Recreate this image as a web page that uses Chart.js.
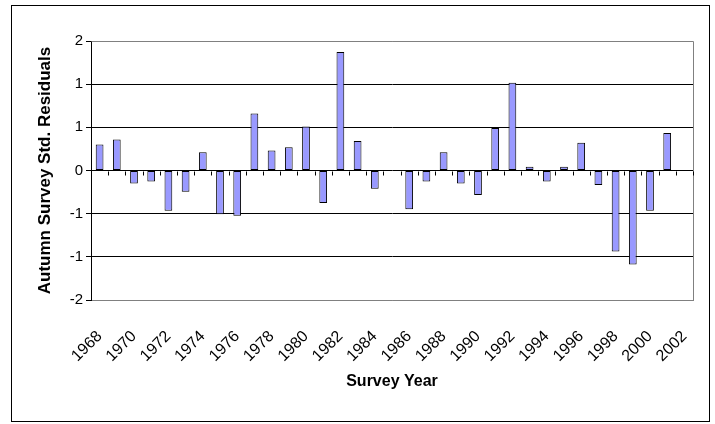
<!DOCTYPE html>
<html>
<head>
<meta charset="utf-8">
<script src="https://cdn.jsdelivr.net/npm/chart.js@4/dist/chart.umd.min.js"></script>
<style>
  html, body { margin: 0; padding: 0; background: #fff; }
  #wrap { width: 715px; height: 424px; }
</style>
</head>
<body>
<div id="wrap"><canvas id="c" width="715" height="424"></canvas></div>
<script>
const years = ['1968','1969','1970','1971','1972','1973','1974','1975','1976','1977',
  '1978','1979','1980','1981','1982','1983','1984','1985','1986','1987',
  '1988','1989','1990','1991','1992','1993','1994','1995','1996','1997',
  '1998','1999','2000','2001','2002'];
const residuals = [0.40, 0.48, -0.20, -0.17, -0.62, -0.33, 0.28, -0.675, -0.70, 0.88,
  0.31, 0.36, 0.68, -0.50, 1.83, 0.455, -0.28, null, -0.60, -0.17,
  0.28, -0.20, -0.38, 0.655, 1.355, 0.056, -0.17, 0.056, 0.43, -0.225,
  -1.25, -1.45, -0.62, 0.58, null];
const yTickValues = [-2, -4/3, -2/3, 0, 2/3, 4/3, 2];
const yTitle = 'Autumn Survey Std. Residuals';
const xTitle = 'Survey Year';

Chart.defaults.font.family = "'Liberation Sans', Arial, sans-serif";
Chart.defaults.color = '#000';

const frame = {
  id: 'frame',
  beforeDraw(chart) {
    const ctx = chart.ctx;
    ctx.save();
    ctx.fillStyle = '#fff';
    ctx.fillRect(0, 0, chart.width, chart.height);
    ctx.strokeStyle = '#000';
    ctx.lineWidth = 1;
    ctx.strokeRect(11.5, 5.5, 698, 416);
    ctx.restore();
  },
  afterDraw(chart) {
    const ctx = chart.ctx;
    const a = chart.chartArea;
    const xs = chart.scales.x, ys = chart.scales.y;
    ctx.save();
    ctx.strokeStyle = '#808080';
    ctx.lineWidth = 1;
    ctx.beginPath();
    ctx.moveTo(Math.round(a.left) + 0.5, Math.round(a.top) + 0.5);
    ctx.lineTo(Math.round(a.right) + 0.5, Math.round(a.top) + 0.5);
    ctx.lineTo(Math.round(a.right) + 0.5, Math.round(a.bottom) + 0.5);
    ctx.stroke();
    // category tick marks on the zero line
    const y0 = Math.round(ys.getPixelForValue(0)) + 0.5;
    ctx.strokeStyle = '#000';
    ctx.beginPath();
    for (let i = 0; i <= years.length; i++) {
      const x = Math.round(xs.getPixelForValue(i - 0.5)) + 0.5;
      ctx.moveTo(x, y0);
      ctx.lineTo(x, y0 + 4);
    }
    ctx.stroke();
    ctx.restore();
  }
};

new Chart(document.getElementById('c'), {
  type: 'bar',
  data: {
    labels: years,
    datasets: [{
      data: residuals,
      backgroundColor: '#9999FF',
      borderColor: '#000',
      borderWidth: 1,
      borderSkipped: false,
      categoryPercentage: 1,
      barPercentage: 0.45
    }]
  },
  options: {
    responsive: false,
    animation: false,
    layout: { padding: { left: 30, top: 41, right: 22, bottom: 30 } },
    plugins: { legend: { display: false }, tooltip: { enabled: false } },
    scales: {
      x: {
        grid: { display: false, drawTicks: false },
        border: { display: true, color: '#808080', width: 1 },
        ticks: {
          autoSkip: false,
          minRotation: 45,
          maxRotation: 45,
          padding: 27,
          font: { size: 16 },
          callback: function(v, i) { return i % 2 === 0 ? years[i] : ''; }
        },
        title: { display: true, text: xTitle, font: { size: 16, weight: 'bold' }, padding: { top: 0, bottom: 2.4 } },
        afterFit(scale) { scale.height = 94; scale.paddingLeft = 0; scale.paddingRight = 0; }
      },
      y: {
        min: -2, max: 2,
        afterBuildTicks(scale) { scale.ticks = yTickValues.map(v => ({ value: v })); },
        grid: {
          color: ctx => (ctx.tick && (ctx.tick.value === 2 || ctx.tick.value === -2)) ? '#808080' : '#000',
          tickColor: '#000',
          tickLength: 5,
          lineWidth: 1
        },
        border: { display: true, color: '#000', width: 1 },
        ticks: {
          padding: 3,
          font: { size: 15 },
          callback: v => String(Math.round(v) + 0)
        },
        title: { display: true, text: yTitle, font: { size: 17, weight: 'bold' }, padding: { top: 4.8, bottom: 0 } },
        afterFit(scale) { scale.width = 61; scale.paddingTop = 0; scale.paddingBottom = 0; }
      }
    }
  },
  plugins: [frame]
});
</script>
</body>
</html>
